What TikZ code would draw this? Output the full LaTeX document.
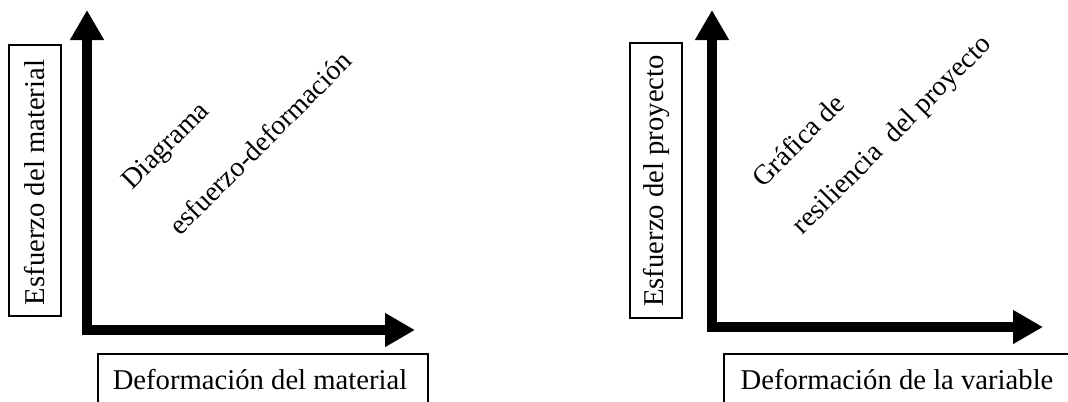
\documentclass[tikz,border=0pt]{standalone}
\usepackage{fontspec}
\setmainfont{Liberation Serif}
\usetikzlibrary{arrows.meta}

\begin{document}
\begin{tikzpicture}[
  x=0.75pt, y=-0.75pt,
  axis/.style={line width=7.5pt, {Triangle[length=22.5pt,width=24pt]}-{Triangle[length=22.5pt,width=24pt]}},
  lab/.style={draw, line width=0.8pt, inner sep=0pt},
  txt/.style={inner sep=0pt, font=\fontsize{21.5}{25}\selectfont},
  diag/.style={inner sep=0pt, rotate=45, font=\fontsize{21}{25}\selectfont}
]
\useasboundingbox (0,0) rectangle (1068,401);
\clip (0,0) rectangle (1068,401);

% ===================== Material =====================
    % Axes
    \coordinate (Y1) at (87,10);
    \coordinate (O1) at (87,330);
    \coordinate (X1) at (415,330);
    \draw[axis] (Y1) -- (O1) -- (X1);

    % Axis labels
    \node[lab, minimum width=52*0.75pt, minimum height=271*0.75pt] (EM) at (35,180.5) {};
    \node[txt, rotate=90] (EMt) at (35,182.5) {Esfuerzo del material};
    \node[lab, minimum width=330*0.75pt, minimum height=100*0.75pt] (DM) at (263,404) {};
    \node[txt] (DMt) at (260,380) {Deformación del material};

    % Title
    \node[diag] (T1a) at (167,147) {Diagrama};
    \node[diag] (T1b) at (260,143) {esfuerzo-deformación};

% ===================== Proyecto =====================
    % Axes
    \coordinate (Y2) at (712,10);
    \coordinate (O2) at (712,327);
    \coordinate (X2) at (1043,327);
    \draw[axis] (Y2) -- (O2) -- (X2);

    % Axis labels
    \node[lab, minimum width=52*0.75pt, minimum height=275*0.75pt] (EP) at (656,180.5) {};
    \node[txt, rotate=90] (EPt) at (656,181) {Esfuerzo del proyecto};
    \node[lab, minimum width=360*0.75pt, minimum height=100*0.75pt] (DP) at (904,404) {};
    \node[txt] (DPt) at (897,380) {Deformación de la variable};

    % Title
    \node[diag] (T2a) at (798,140) {Gráfica de};
    \node[diag] (T2b) at (893,136) {resiliencia \ del proyecto};

\end{tikzpicture}
\end{document}
